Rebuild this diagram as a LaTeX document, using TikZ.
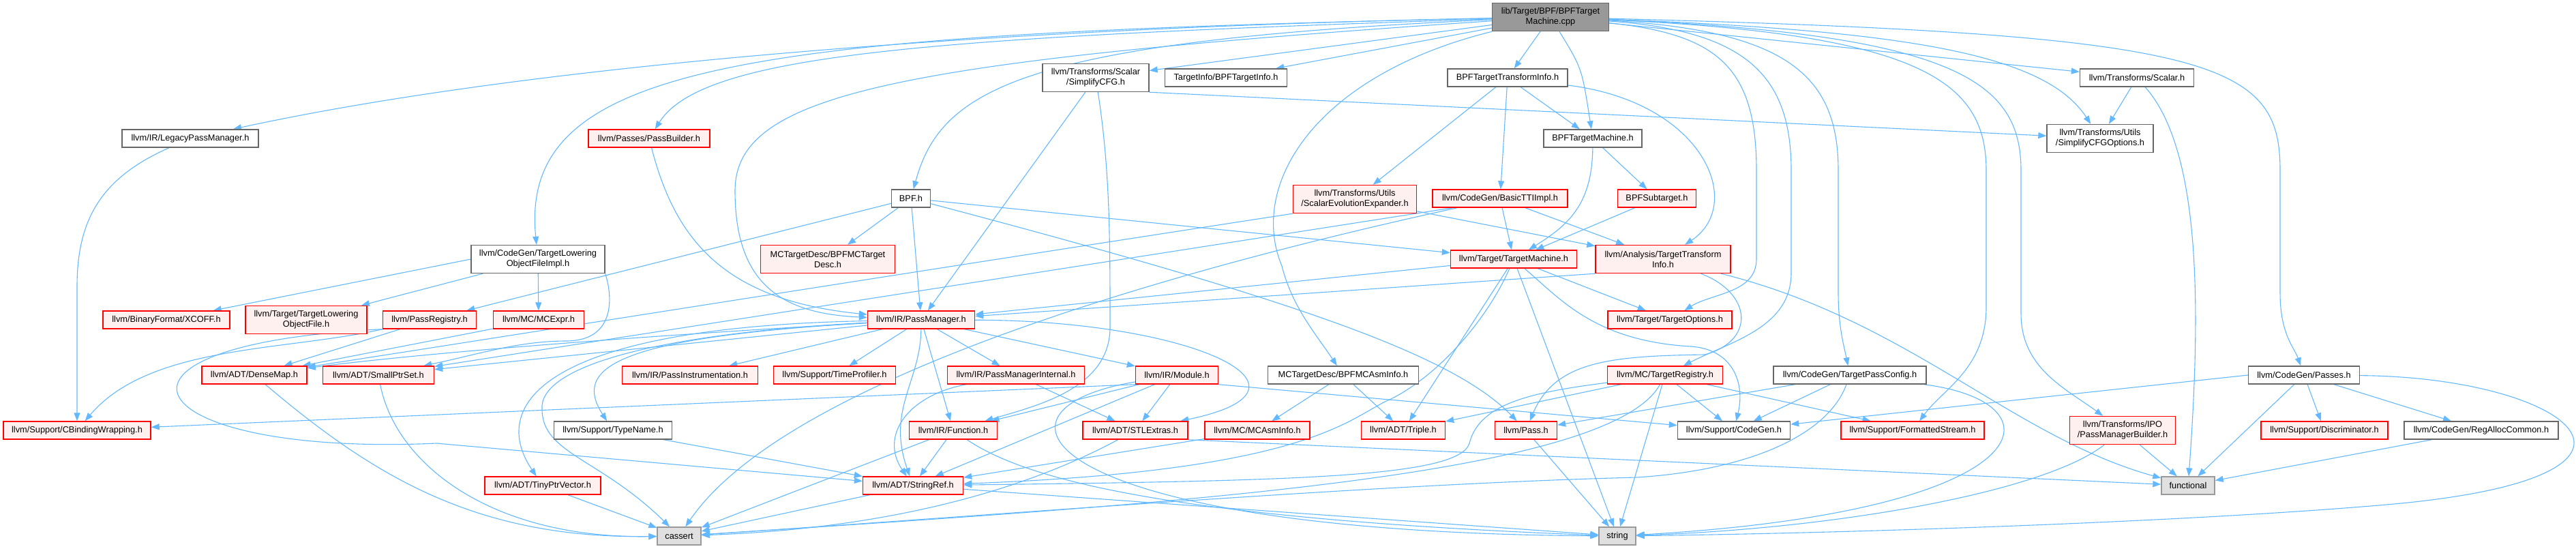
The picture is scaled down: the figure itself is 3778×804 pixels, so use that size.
\documentclass[tikz,border=0pt]{standalone}
\usepackage{fontspec}
\setmainfont{Liberation Sans}
\usetikzlibrary{arrows.meta}

\definecolor{edgeblue}{HTML}{63B8FF}
\definecolor{boxline}{HTML}{666666}
\definecolor{sysline}{HTML}{999999}
\definecolor{sysfill}{HTML}{E0E0E0}
\definecolor{rootfill}{HTML}{999999}
\definecolor{redfill}{HTML}{FFF0F0}
\definecolor{redline}{HTML}{FF0000}

\pgfdeclarelayer{edges}
\pgfsetlayers{edges,main}

\tikzset{
  hdr/.style={draw=boxline, fill=white, text=black, line width=1.4pt, inner sep=0pt,
    minimum height=26pt, align=center, font=\fontsize{12.8}{15}\selectfont},
  twoline/.style={minimum height=41pt},
  hdrred/.style={hdr, draw=redline, fill=redfill},
  hdrsys/.style={hdr, draw=sysline, fill=sysfill},
  hdrmain/.style={hdr, fill=rootfill},
  incl/.style={draw=edgeblue, line width=1.1pt, -{Triangle[length=12pt,width=9pt]}},
}

\begin{document}
\begin{tikzpicture}[x=1pt, y=-1pt]
  \useasboundingbox (0,0) rectangle (3778,804);

  % the file and its direct includes
  \node[hdrmain, twoline, minimum width=171pt] (root) at (2274,25) {lib/Target/BPF/BPFTarget\\Machine.cpp};
  \node[hdr, minimum width=200pt] (lpm) at (279,203) {llvm/IR/LegacyPassManager.h};
  \node[hdrred, minimum width=178pt] (plb) at (952,203) {llvm/Passes/PassBuilder.h};
  \node[hdr, twoline, minimum width=196pt] (tlofi) at (789,380) {llvm/CodeGen/TargetLowering\\ObjectFileImpl.h};
  \node[hdrred, twoline, minimum width=197pt] (mctd) at (1214,380) {MCTargetDesc/BPFMCTarget\\Desc.h};
  \node[hdr, minimum width=57pt] (bpfh) at (1336,291) {BPF.h};
  \node[hdr, twoline, minimum width=156pt] (scfg) at (1607,114) {llvm/Transforms/Scalar\\/SimplifyCFG.h};
  \node[hdr, minimum width=179pt] (tinfo) at (1798,114) {TargetInfo/BPFTargetInfo.h};
  \node[hdr, minimum width=176pt] (btti) at (2211,114) {BPFTargetTransformInfo.h};
  \node[hdr, minimum width=144pt] (btm) at (2336,203) {BPFTargetMachine.h};
  \node[hdrred, twoline, minimum width=181pt] (see) at (1987,292) {llvm/Transforms/Utils\\/ScalarEvolutionExpander.h};
  \node[hdrred, minimum width=198pt] (basictti) at (2200,291) {llvm/CodeGen/BasicTTIImpl.h};
  \node[hdrred, minimum width=115pt] (subt) at (2430,291) {BPFSubtarget.h};
  \node[hdrred, minimum width=185pt] (tm) at (2220,380) {llvm/Target/TargetMachine.h};
  \node[hdrred, twoline, minimum width=198pt] (tti) at (2439,380) {llvm/Analysis/TargetTransform\\Info.h};
  \node[hdr, minimum width=167pt] (scalar) at (3134,114) {llvm/Transforms/Scalar.h};
  \node[hdr, twoline, minimum width=156pt] (scfgo) at (3080,203) {llvm/Transforms/Utils\\/SimplifyCFGOptions.h};
  \node[hdr, minimum width=163pt] (passes) at (3379,550) {llvm/CodeGen/Passes.h};
  \node[hdrred, minimum width=186pt] (discr) at (3409,631) {llvm/Support/Discriminator.h};
  \node[hdr, minimum width=226pt] (rac) at (3639,631) {llvm/CodeGen/RegAllocCommon.h};
  \node[hdrsys, minimum width=78pt] (functional) at (3209,712) {functional};
  \node[hdrred, twoline, minimum width=155pt] (ipo) at (3113,631) {llvm/Transforms/IPO\\/PassManagerBuilder.h};
  \node[hdrred, minimum width=186pt] (xcoff) at (244,469) {llvm/BinaryFormat/XCOFF.h};
  \node[hdrred, twoline, minimum width=178pt] (tlof) at (449,469) {llvm/Target/TargetLowering\\ObjectFile.h};
  \node[hdrred, minimum width=137pt] (preg) at (630,469) {llvm/PassRegistry.h};
  \node[hdrred, minimum width=154pt] (densemap) at (373,550) {llvm/ADT/DenseMap.h};
  \node[hdrred, minimum width=163pt] (smallptr) at (555,550) {llvm/ADT/SmallPtrSet.h};
  \node[hdrred, minimum width=216pt] (cbw) at (113,631) {llvm/Support/CBindingWrapping.h};
  \node[hdrred, minimum width=133pt] (mcexpr) at (790,469) {llvm/MC/MCExpr.h};
  \node[hdrred, minimum width=199pt] (pinstr) at (1012,550) {llvm/IR/PassInstrumentation.h};
  \node[hdrred, minimum width=179pt] (tprof) at (1224,550) {llvm/Support/TimeProfiler.h};
  \node[hdr, minimum width=173pt] (tname) at (899,631) {llvm/Support/TypeName.h};
  \node[hdrred, minimum width=170pt] (tinyvec) at (796,712) {llvm/ADT/TinyPtrVector.h};
  \node[hdrsys, minimum width=64pt] (cassert) at (996,786) {cassert};
  \node[hdrred, minimum width=157pt] (pm) at (1351,469) {llvm/IR/PassManager.h};
  \node[hdrred, minimum width=201pt] (pmi) at (1490,550) {llvm/IR/PassManagerInternal.h};
  \node[hdrred, minimum width=121pt] (module) at (1726,550) {llvm/IR/Module.h};
  \node[hdrred, minimum width=129pt] (function) at (1398,631) {llvm/IR/Function.h};
  \node[hdrred, minimum width=154pt] (stlx) at (1665,631) {llvm/ADT/STLExtras.h};
  \node[hdrred, minimum width=154pt] (mcasm) at (1844,631) {llvm/MC/MCAsmInfo.h};
  \node[hdrred, minimum width=147pt] (strref) at (1339,712) {llvm/ADT/StringRef.h};
  \node[hdr, minimum width=221pt] (bpfasm) at (1970,550) {MCTargetDesc/BPFMCAsmInfo.h};
  \node[hdrred, minimum width=123pt] (triple) at (2058,631) {llvm/ADT/Triple.h};
  \node[hdrred, minimum width=91pt] (pass) at (2238,631) {llvm/Pass.h};
  \node[hdrsys, minimum width=54pt] (string) at (2372,786) {string};
  \node[hdrred, minimum width=182pt] (topts) at (2449,469) {llvm/Target/TargetOptions.h};
  \node[hdrred, minimum width=169pt] (treg) at (2442,550) {llvm/MC/TargetRegistry.h};
  \node[hdr, minimum width=165pt] (cgen) at (2543,631) {llvm/Support/CodeGen.h};
  \node[hdr, minimum width=224pt] (tpc) at (2713,550) {llvm/CodeGen/TargetPassConfig.h};
  \node[hdrred, minimum width=210pt] (fstream) at (2805,631) {llvm/Support/FormattedStream.h};

  \begin{pgfonlayer}{edges}
  % includes of the .cpp file
  \draw[incl] (root) .. controls (1500,40) and (800,90) .. (lpm);
  \draw[incl] (root) .. controls (1100,50) and (760,90) .. (tlofi);
  \draw[incl] (root) .. controls (1350,55) and (1030,80) .. (plb);
  \draw[incl] (root) .. controls (1300,90) and (1078,140) .. (1078,280) .. controls (1078,420) and (1150,460) .. (pm);
  \draw[incl] (root) .. controls (1500,60) and (1380,130) .. (bpfh);
  \draw[incl] (root) -- (scfg);
  \draw[incl] (root) -- (tinfo);
  \draw[incl] (root) -- (btti);
  \draw[incl] (root) .. controls (2320,100) .. (btm);
  \draw[incl] (root) .. controls (1930,110) and (1830,270) .. (1880,390) .. controls (1895,450) and (1930,490) .. (bpfasm);
  \draw[incl] (root) .. controls (2520,50) and (2576,100) .. (2576,250) -- (2576,380) .. controls (2576,430) and (2510,430) .. (topts);
  \draw[incl] (root) .. controls (2560,45) and (2627,110) .. (2627,250) -- (2627,400) .. controls (2627,480) and (2540,500) .. (treg);
  \draw[incl] (root) .. controls (2620,45) and (2696,110) .. (2696,250) -- (2696,430) .. controls (2696,480) and (2705,510) .. (tpc);
  \draw[incl] (root) .. controls (2820,50) and (2913,120) .. (2913,250) -- (2913,450) .. controls (2913,540) and (2850,570) .. (fstream);
  \draw[incl] (root) .. controls (2870,50) and (2964,120) .. (2964,250) -- (2964,460) .. controls (2964,540) and (3030,570) .. (ipo);
  \draw[incl] (root) .. controls (3250,50) and (3344,90) .. (3344,250) -- (3344,430) .. controls (3344,490) and (3365,510) .. (passes);
  \draw[incl] (root) -- (scalar);
  \draw[incl] (root) .. controls (2800,45) and (3000,80) .. (scfgo);

  % second level
  \draw[incl] (lpm) .. controls (150,260) and (113,320) .. (113,420) -- (cbw);
  \draw[incl] (tlofi.west) -- (xcoff);
  \draw[incl] (tlofi) -- (tlof);
  \draw[incl] (tlofi) -- (mcexpr);
  \draw[incl] (tlofi.south east) .. controls (900,440) and (900,500) .. (830,500) .. controls (760,500) and (700,520) .. (smallptr);
  \draw[incl] (plb) .. controls (990,350) and (1060,440) .. (pm);
  \draw[incl] (bpfh) -- (mctd);
  \draw[incl] (bpfh) -- (pm);
  \draw[incl] (bpfh) .. controls (1900,440) and (2130,520) .. (pass);
  \draw[incl] (bpfh) -- (preg);
  \draw[incl] (bpfh) -- (tm);
  \draw[incl] (scfg) -- (pm);
  \draw[incl] (scfg) .. controls (1628,250) and (1628,350) .. (1628,480) .. controls (1628,570) and (1520,595) .. (function);
  \draw[incl] (scfg.south east) -- (scfgo);
  \draw[incl] (btti) -- (btm);
  \draw[incl] (btti) .. controls (2500,150) and (2560,300) .. (tti);
  \draw[incl] (btti) -- (basictti);
  \draw[incl] (btti) -- (see);
  \draw[incl] (btm) -- (subt);
  \draw[incl] (btm) .. controls (2335,300) and (2300,330) .. (tm);
  \draw[incl] (subt) -- (tm);
  \draw[incl] (see) -- (tti);
  \draw[incl] (see.south west) .. controls (1200,420) and (700,500) .. (densemap);
  \draw[incl] (basictti) -- (tm);
  \draw[incl] (basictti) -- (tti);
  \draw[incl] ([xshift=30pt]basictti.south west) -- (smallptr);
  \draw[incl] (basictti) .. controls (1700,400) and (1150,560) .. (cassert);

  % target machine, transform info
  \draw[incl] (tm) -- (pm);
  \draw[incl] (tm) .. controls (2180,470) and (2110,550) .. (2040,585) .. controls (1980,610) and (1930,690) .. (strref);
  \draw[incl] (tm) -- (triple);
  \draw[incl] (tm) -- (string);
  \draw[incl] (tm) .. controls (2290,440) and (2340,500) .. (2480,508) .. controls (2540,512) and (2560,560) .. (cgen);
  \draw[incl] (tm) -- (topts);
  \draw[incl] (tti.south west) -- (pm);
  \draw[incl] (tti) .. controls (2570,430) and (2575,500) .. (2500,520) .. controls (2360,522) and (2280,530) .. (pass);
  \draw[incl] (tti) .. controls (2800,470) and (2950,640) .. (functional);

  % pass manager
  \draw[incl] (pm) .. controls (900,495) and (600,520) .. (densemap);
  \draw[incl] (pm) -- (smallptr);
  \draw[incl] (pm) .. controls (780,480) and (720,600) .. (tinyvec);
  \draw[incl] (pm) .. controls (900,495) and (840,540) .. (tname);
  \draw[incl] (pm) .. controls (950,490) and (790,540) .. (795,600) .. controls (795,665) and (880,672) .. (cassert);
  \draw[incl] (pm) -- (pinstr);
  \draw[incl] (pm) -- (tprof);
  \draw[incl] (pm) -- (pmi);
  \draw[incl] (pm) -- (module);
  \draw[incl] (pm) -- (function);
  \draw[incl] (pm) .. controls (1750,470) and (1960,570) .. (stlx);
  \draw[incl] (pm) .. controls (1350,560) and (1300,600) .. (strref);

  % ADT and support headers
  \draw[incl] (preg.south west) .. controls (420,515) and (220,505) .. (cbw);
  \draw[incl] (preg) -- (densemap);
  \draw[incl] (preg.south west) .. controls (100,505) and (200,670) .. (640,650) -- (strref);
  \draw[incl] (mcexpr) -- (densemap);
  \draw[incl] (densemap) .. controls (550,700) and (700,790) .. (cassert);
  \draw[incl] (smallptr) .. controls (580,680) and (720,790) .. (cassert);
  \draw[incl] (tinyvec) -- (cassert);
  \draw[incl] (tname) -- (strref);
  \draw[incl] (pmi) .. controls (1330,580) and (1290,640) .. (strref);
  \draw[incl] (pmi) -- (stlx);
  \draw[incl] (module.south west) -- (cbw);
  \draw[incl] (module) -- (function);
  \draw[incl] (module) -- (stlx);
  \draw[incl] (module) -- (strref);
  \draw[incl] (module.south east) -- (cgen);
  \draw[incl] (module) .. controls (1420,600) and (1520,780) .. (string);
  \draw[incl] (function) -- (strref);
  \draw[incl] (function) -- (cassert);
  \draw[incl] (function) .. controls (1500,700) and (1700,760) .. (string);
  \draw[incl] (stlx) .. controls (1500,720) and (1300,775) .. (cassert);
  \draw[incl] (stlx.south east) -- (functional);
  \draw[incl] (strref) -- (cassert);
  \draw[incl] (strref) -- (string);
  \draw[incl] (mcasm) -- (strref);
  \draw[incl] (bpfasm) -- (mcasm);
  \draw[incl] (bpfasm) -- (triple);
  \draw[incl] (pass) -- (string);

  % registry, pass config, codegen passes
  \draw[incl] (treg) -- (triple);
  \draw[incl] (treg) -- (string);
  \draw[incl] (treg) -- (cgen);
  \draw[incl] (treg) -- (fstream);
  \draw[incl] (treg) .. controls (2360,700) and (1700,740) .. (cassert);
  \draw[incl] (treg) .. controls (2250,575) and (2170,590) .. (2155,650) .. controls (2140,700) and (1900,705) .. (strref);
  \draw[incl] (tpc) -- (pass);
  \draw[incl] (tpc) -- (cgen);
  \draw[incl] (tpc) .. controls (3030,590) and (3000,750) .. (string);
  \draw[incl] (tpc) .. controls (2680,640) and (2560,690) .. (2400,700) .. controls (2000,710) and (1400,760) .. (cassert);
  \draw[incl] (passes) -- (functional);
  \draw[incl] (passes) -- (discr);
  \draw[incl] (passes) -- (rac);
  \draw[incl] (passes.west) -- (cgen);
  \draw[incl] (passes) .. controls (3770,553) and (3960,700) .. (3500,740) .. controls (3200,766) and (2700,782) .. (string);
  \draw[incl] (rac) -- (functional);
  \draw[incl] (ipo) -- (functional);
  \draw[incl] (ipo) .. controls (3000,720) and (2700,775) .. (string);
  \draw[incl] (scalar) .. controls (3228,220) and (3228,450) .. (functional);
  \draw[incl] (scalar) -- (scfgo);
  \end{pgfonlayer}
\end{tikzpicture}
\end{document}
